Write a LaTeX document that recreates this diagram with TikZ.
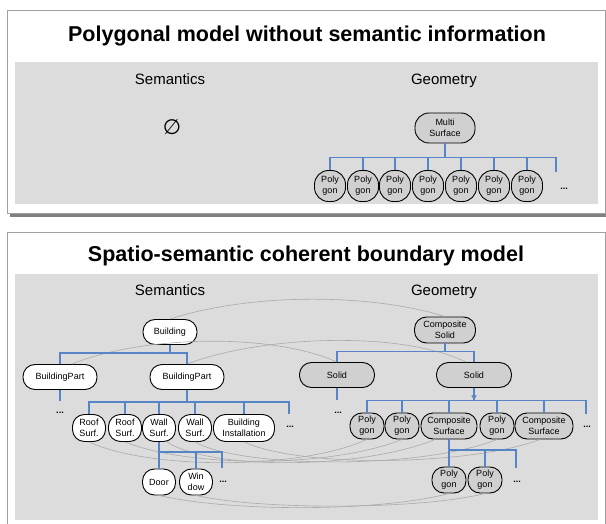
\documentclass[tikz,border=0pt]{standalone}
\usepackage{fontspec}
\setmainfont{Liberation Sans}
\newfontfamily\symfont{DejaVu Sans}
\usetikzlibrary{arrows.meta,calc}
\definecolor{treeblue}{RGB}{86,132,198}
\definecolor{areagray}{RGB}{220,220,220}
\definecolor{geofill}{RGB}{208,208,208}
\definecolor{panelborder}{RGB}{160,160,160}
\definecolor{shadowgray}{RGB}{128,128,128}
\definecolor{linkgray}{RGB}{170,170,170}
\begin{document}
\begin{tikzpicture}[x=1pt,y=-1pt,
  sem/.style={draw=black, line width=0.9pt, fill=white, rounded corners=12pt, minimum height=26pt, inner sep=1pt, align=center, font=\fontsize{9}{10.7}\selectfont},
  geo/.style={sem, fill=geofill},
  tree/.style={draw=treeblue, line width=1.1pt},
  link/.style={draw=linkgray, line width=0.6pt},
  head/.style={anchor=base, font=\fontsize{15}{17}\selectfont},
  ttl/.style={font=\bfseries\fontsize{21.5}{24}\selectfont},
  dots/.style={font=\bfseries\fontsize{9}{10}\selectfont}]
\useasboundingbox (0,0) rectangle (606,524);
% ---------- top panel ----------
\fill[shadowgray] (10,211) rectangle (606,217);
\draw[panelborder, fill=white, line width=0.8pt] (7,10) rectangle (605.5,213);
\fill[areagray] (15,62) rectangle (598,204);
\node[ttl] (t1) at (307,36) {Polygonal model without semantic information};
\node[head] (s1) at (170,85) {Semantics};
\node[head] (g1h) at (444,85) {Geometry};
\node[font=\symfont\fontsize{21}{24}\selectfont] (empty) at (172,127) {∅};
\node[geo, minimum width=60pt, minimum height=30pt, rounded corners=14pt] (ms) at (445,128) {Multi\\Surface};
\foreach \i/\x in {1/330,2/363,3/395,4/428,5/461,6/494,7/527}{
  \node[geo, minimum width=31pt, minimum height=31pt, rounded corners=14pt] (p\i) at (\x,186) {Poly\\gon};
}
\coordinate (e1) at (556,172);
\node[dots] (d1) at (564,189) {...};
\foreach \n in {p1,p2,p3,p4,p5,p6,p7,e1}{
  \draw[tree] (ms.south) -- ++(0,14) -| (\n.north);
}
% ---------- bottom panel ----------
\draw[panelborder, fill=white, line width=0.8pt] (7,232) rectangle (605.5,530);
\fill[areagray] (15,274) rectangle (598,520);
\node[ttl] (t2) at (306,256) {Spatio-semantic coherent boundary model};
\node[head] (s2) at (170,295) {Semantics};
\node[head] (g2h) at (444,295) {Geometry};
% semantics tree
\node[sem, minimum width=54pt, minimum height=25pt] (bld) at (170,332) {Building};
\node[sem, minimum width=74pt, minimum height=25pt] (bp1) at (60,377) {BuildingPart};
\node[sem, minimum width=74pt, minimum height=25pt] (bp2) at (187,377) {BuildingPart};
\node[sem, minimum width=33pt, minimum height=27pt] (rs1) at (89,428) {Roof\\Surf.};
\node[sem, minimum width=33pt, minimum height=27pt] (rs2) at (125,428) {Roof\\Surf.};
\node[sem, minimum width=33pt, minimum height=27pt] (ws1) at (159,428) {Wall\\Surf.};
\node[sem, minimum width=33pt, minimum height=27pt] (ws2) at (195,428) {Wall\\Surf.};
\node[sem, minimum width=61pt, minimum height=27pt] (bi) at (244,428) {Building\\Installation};
\node[sem, minimum width=33pt, minimum height=26pt] (door) at (159,482) {Door};
\node[sem, minimum width=33pt, minimum height=26pt] (win) at (196,482) {Win\\dow};
\coordinate (e2) at (60,401);
\coordinate (e3) at (289,414);
\coordinate (e4) at (222,468);
\node[dots] (d2) at (60,413) {...};
\node[dots] (d3) at (290,427) {...};
\node[dots] (d4) at (223,482) {...};
% geometry tree
\node[geo, minimum width=61pt, minimum height=26pt] (cs) at (445,330) {Composite\\Solid};
\node[geo, minimum width=75pt, minimum height=25pt] (sol1) at (337,375) {Solid};
\node[geo, minimum width=75pt, minimum height=25pt] (sol2) at (474,375) {Solid};
\node[geo, minimum width=34pt, minimum height=26pt] (q1) at (367,426) {Poly\\gon};
\node[geo, minimum width=34pt, minimum height=26pt] (q2) at (402,426) {Poly\\gon};
\node[geo, minimum width=56pt, minimum height=26pt] (csf1) at (449,426) {Composite\\Surface};
\node[geo, minimum width=34pt, minimum height=26pt] (q4) at (497,426) {Poly\\gon};
\node[geo, minimum width=58pt, minimum height=26pt] (csf2) at (544,426) {Composite\\Surface};
\node[geo, minimum width=34pt, minimum height=26pt] (q5) at (449,480) {Poly\\gon};
\node[geo, minimum width=34pt, minimum height=26pt] (q6) at (485,480) {Poly\\gon};
\coordinate (e5) at (337,400);
\coordinate (e6) at (586,414);
\coordinate (e7) at (516,468);
\node[dots] (d5) at (338,413) {...};
\node[dots] (d6) at (587,427) {...};
\node[dots] (d7) at (517,482) {...};
% grey correspondence links
\draw[link] (bld.north) .. controls (250,293) and (370,293) .. (cs.north);
\draw[link] ($(bp1.north)+(12,0)$) .. controls (140,336) and (270,332) .. (sol1.north);
\draw[link] (bp2.north) .. controls (260,336) and (400,330) .. ($(sol2.north)+(-8,0)$);
\draw[link] (rs1.south) .. controls (150,470) and (300,470) .. (q1.south);
\draw[link] (rs2.south) .. controls (190,468) and (330,468) .. (q2.south);
\draw[link] ($(ws1.south)+(8,0)$) .. controls (210,470) and (360,470) .. ($(csf1.south)+(-14,0)$);
\draw[link] (ws2.south) .. controls (240,468) and (420,470) .. (q4.south);
\draw[link] (bi.south) .. controls (300,468) and (470,466) .. ($(csf2.south)+(-4,0)$);
\draw[link] (door.south) .. controls (230,512) and (380,512) .. (q5.south);
\draw[link] (win.south) .. controls (260,510) and (420,510) .. (q6.south);
% trees
\foreach \n in {bp1,bp2}{ \draw[tree] (bld.south) -- ++(0,8) -| (\n.north); }
\draw[tree] (bp1.south) -- (e2);
\foreach \n in {rs1,rs2,ws1,ws2,bi,e3}{ \draw[tree] (bp2.south) -- ++(0,12) -| (\n.north); }
\foreach \n in {door,win,e4}{ \draw[tree] (ws1.south) -- ++(0,10) -| (\n.north); }
\foreach \n in {sol1,sol2}{ \draw[tree] (cs.south) -- ++(0,8) -| (\n.north); }
\draw[tree] (sol1.south) -- (e5);
\foreach \n in {q1,q2,csf1,q4,csf2,e6}{ \draw[tree] (sol2.south) -- ++(0,12.5) -| (\n.north); }
\draw[tree, -{Latex[length=5pt,width=6pt]}] (sol2.south) -- ++(0,12.5);
\foreach \n in {q5,q6,e7}{ \draw[tree] (csf1.south) -- ++(0,10.5) -| (\n.north); }
\end{tikzpicture}
\end{document}
